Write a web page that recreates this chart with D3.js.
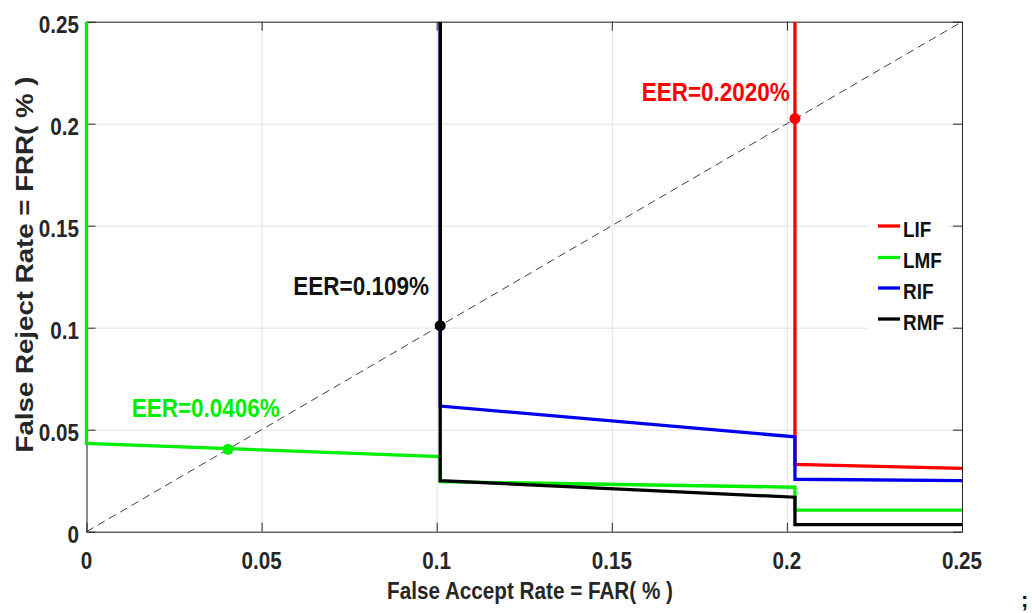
<!DOCTYPE html>
<html>
<head>
<meta charset="utf-8">
<script src="https://cdn.jsdelivr.net/npm/d3@7/dist/d3.min.js"></script>
<style>
  html, body { margin: 0; padding: 0; background: #fff; }
  svg { display: block; }
  text { font-family: "Liberation Sans", Arial, sans-serif; font-weight: bold; }
</style>
</head>
<body>
<svg id="chart" width="1032" height="613"></svg>
<script>
// ---------- data ----------
const xTicks = [0, 0.05, 0.1, 0.15, 0.2, 0.25];
const xTickLabels = ["0", "0.05", "0.1", "0.15", "0.2", "0.25"];
const yTicks = [0, 0.05, 0.1, 0.15, 0.2, 0.25];
const yTickLabels = ["0", "0.05", "0.1", "0.15", "0.2", "0.25"];

const seriesNames = ["LIF", "LMF", "RIF", "RMF"];
const seriesColors = ["#ff0000", "#00ee00", "#0000ee", "#000000"];

// FAR / FRR values (%) per series
const farLIF = [0.2023, 0.2023, 0.25];
const frrLIF = [0.25, 0.033, 0.031];
const farLMF = [0, 0, 0.101, 0.101, 0.2023, 0.2023, 0.25];
const frrLMF = [0.25, 0.0433, 0.0368, 0.0245, 0.0218, 0.0106, 0.0106];
const farRIF = [0.101, 0.101, 0.2023, 0.2023, 0.25];
const frrRIF = [0.25, 0.0616, 0.0465, 0.0257, 0.025];
const farRMF = [0.101, 0.101, 0.2023, 0.2023, 0.25];
const frrRMF = [0.25, 0.025, 0.0169, 0.0035, 0.0035];

// equal error rate points
const eerNames = ["EER=0.2020%", "EER=0.0406%", "EER=0.109%"];
const eerFar = [0.2023, 0.0404, 0.101];
const eerFrr = [0.2025, 0.0404, 0.101];
const eerColors = ["#ff0000", "#00ee00", "#000000"];

const diagFar = [0, 0.25];
const diagFrr = [0, 0.25];

// ---------- layout ----------
const svg = d3.select("#chart");
const L = 86.5, R = 962, T = 21.7, B = 531.7;
const x = d3.scaleLinear().domain([0, 0.25]).range([L, R]);
const y = d3.scaleLinear().domain([0, 0.25]).range([B, T]);
const axisColor = "#262626";
const gridColor = "#e3e3e3";

// grid
svg.append("g").attr("transform", `translate(0,${B})`)
  .call(d3.axisBottom(x).tickValues(xTicks).tickSize(-(B - T)).tickFormat(""))
  .call(g => g.select(".domain").remove())
  .selectAll("line").attr("stroke", gridColor).attr("stroke-width", 1);
svg.append("g").attr("transform", `translate(${L},0)`)
  .call(d3.axisLeft(y).tickValues(yTicks).tickSize(-(R - L)).tickFormat(""))
  .call(g => g.select(".domain").remove())
  .selectAll("line").attr("stroke", gridColor).attr("stroke-width", 1);

// axes box and inward ticks
const tick = 9;
svg.append("g").attr("transform", `translate(0,${B})`)
  .call(d3.axisBottom(x).tickValues(xTicks).tickSize(-tick).tickFormat("").tickSizeOuter(0))
  .call(g => { g.selectAll("line,path").attr("stroke", axisColor); });
svg.append("g").attr("transform", `translate(0,${T})`)
  .call(d3.axisTop(x).tickValues(xTicks).tickSize(-tick).tickFormat("").tickSizeOuter(0))
  .call(g => { g.selectAll("line,path").attr("stroke", axisColor); });
svg.append("g").attr("transform", `translate(${L},0)`)
  .call(d3.axisLeft(y).tickValues(yTicks).tickSize(-tick).tickFormat("").tickSizeOuter(0))
  .call(g => { g.selectAll("line,path").attr("stroke", axisColor); });
svg.append("g").attr("transform", `translate(${R},0)`)
  .call(d3.axisRight(y).tickValues(yTicks).tickSize(-tick).tickFormat("").tickSizeOuter(0))
  .call(g => { g.selectAll("line,path").attr("stroke", axisColor); });

// diagonal dashed line
const line = d3.line().x(d => x(d[0])).y(d => y(d[1]));
svg.append("path")
  .datum(diagFar.map((v, i) => [v, diagFrr[i]]))
  .attr("d", line).attr("fill", "none")
  .attr("stroke", "#404040").attr("stroke-width", 1)
  .attr("stroke-dasharray", "8,5");

// series
const seriesData = [
  farLIF.map((v, i) => [v, frrLIF[i]]),
  farLMF.map((v, i) => [v, frrLMF[i]]),
  farRIF.map((v, i) => [v, frrRIF[i]]),
  farRMF.map((v, i) => [v, frrRMF[i]])
];
svg.append("clipPath").attr("id", "plotclip")
  .append("rect").attr("x", L - 4).attr("y", T).attr("width", R - L + 4).attr("height", B - T);
seriesData.forEach((d, i) => {
  svg.append("path").datum(d).attr("d", line)
    .attr("clip-path", "url(#plotclip)")
    .attr("fill", "none").attr("stroke", seriesColors[i])
    .attr("stroke-width", 3.3).attr("stroke-linejoin", "miter");
});

// EER dots
eerFar.forEach((v, i) => {
  svg.append("circle").attr("cx", x(v)).attr("cy", y(eerFrr[i])).attr("r", 5.5)
    .attr("fill", eerColors[i]);
});

// text helper
function label(px, py, txt, o) {
  const g = svg.append("g")
    .attr("transform", `translate(${px},${py}) rotate(${o.rot || 0}) scale(${o.sx || 1},1)`);
  g.append("text").attr("text-anchor", o.anchor || "middle")
    .style("font-size", o.size + "px").attr("fill", o.color || "#262626").text(txt);
}

// tick labels
xTicks.forEach((v, i) => label(x(v), 568.5, xTickLabels[i], { size: 24, sx: 0.86 }));
yTicks.forEach((v, i) => label(79, y(v) + 10.8, yTickLabels[i], { size: 24, sx: 0.86, anchor: "end" }));

// axis titles
label(530, 599, "False Accept Rate = FAR( % )", { size: 23.5, sx: 0.88 });
label(33, 264.5, "False Reject Rate = FRR( % )", { size: 24.5, sx: 1.13, rot: -90 });

// EER labels
label(641.7, 100.7, eerNames[0], { size: 25, sx: 0.9, anchor: "start", color: eerColors[0] });
label(131.7, 416.7, eerNames[1], { size: 25, sx: 0.9, anchor: "start", color: eerColors[1] });
label(293.3, 295, eerNames[2], { size: 25, sx: 0.9, anchor: "start", color: "#111" });

// legend
svg.append("rect").attr("x", 869).attr("y", 208).attr("width", 78).attr("height", 129).attr("fill", "#fff");
const legY = [226, 257.5, 288, 319];
seriesNames.forEach((n, i) => {
  svg.append("line").attr("x1", 878).attr("x2", 900).attr("y1", legY[i]).attr("y2", legY[i])
    .attr("stroke", seriesColors[i]).attr("stroke-width", 3.3);
  label(903, legY[i] + 10.5, n, { size: 22, sx: 0.86, anchor: "start", color: "#111" });
});

// trailing punctuation in the source image
label(1021, 607, ";", { size: 22, anchor: "start", color: "#111" });
</script>
</body>
</html>
